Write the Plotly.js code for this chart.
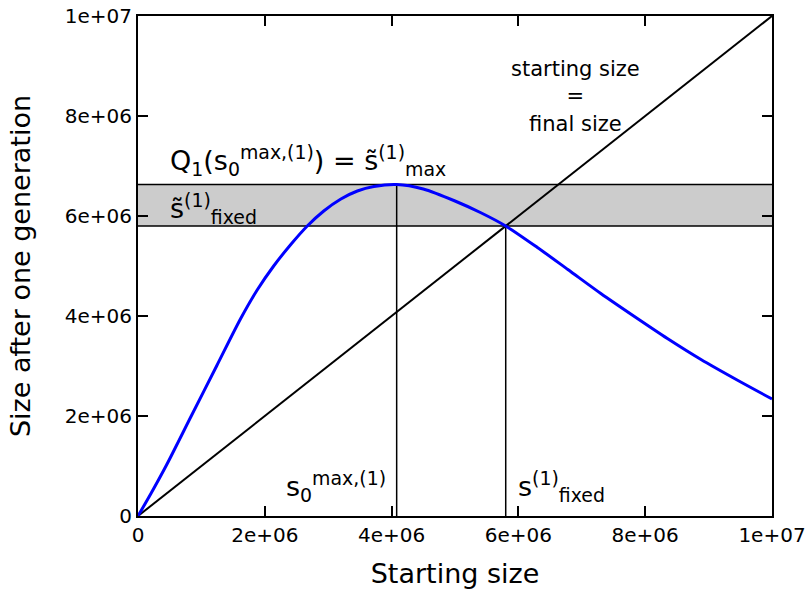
<!DOCTYPE html>
<html>
<head>
<meta charset="utf-8">
<script src="https://cdn.plot.ly/plotly-3.0.1.min.js"></script>
<style>
  html, body { margin: 0; padding: 0; background: #fff; }
  #graph { width: 809px; height: 595px; }
</style>
</head>
<body>
<div id="graph"></div>
<script>
// Curva Q1 (tamanho inicial -> tamanho após uma geração)
const startSize = [0, 0.2e6, 0.45e6, 0.84e6, 1.24e6, 1.62e6, 1.88e6, 2.14e6, 2.41e6, 2.67e6,
                   2.93e6, 3.2e6, 3.46e6, 3.72e6, 4.08e6, 4.5e6, 5.0e6, 5.4e6, 5.8e6,
                   6.3e6, 6.78e6, 7.3e6, 7.83e6, 8.35e6, 8.88e6, 9.45e6, 1.0e7];
const finalSize = [0, 0.44e6, 1.02e6, 2.0e6, 3.0e6, 3.95e6, 4.52e6, 5.0e6, 5.43e6, 5.8e6,
                   6.1e6, 6.34e6, 6.5e6, 6.59e6, 6.63e6, 6.54e6, 6.3e6, 6.07e6, 5.8e6,
                   5.37e6, 4.93e6, 4.45e6, 3.99e6, 3.55e6, 3.13e6, 2.72e6, 2.34e6];

// Reta identidade
const diagX = [0, 1e7];
const diagY = [0, 1e7];

// Pontos notáveis
const s0Max = 4.08e6;
const sMax = 6.63e6;
const sFixed = 5.8e6;

// Ticks
const tickVals = [0, 2e6, 4e6, 6e6, 8e6, 1e7];
const tickText = ["0", "2e+06", "4e+06", "6e+06", "8e+06", "1e+07"];

const fonte = "DejaVu Sans, sans-serif";

var traceCurva = {
    x: startSize,
    y: finalSize,
    mode: 'lines',
    line: { color: '#0000ff', width: 3, shape: 'spline', smoothing: 0.8 },
    hoverinfo: 'skip'
};

var traceDiag = {
    x: diagX,
    y: diagY,
    mode: 'lines',
    line: { color: 'black', width: 2 },
    hoverinfo: 'skip'
};

var traceVertMax = {
    x: [s0Max, s0Max],
    y: [0, sMax],
    mode: 'lines',
    line: { color: 'black', width: 1.5 },
    hoverinfo: 'skip'
};

var traceVertFixed = {
    x: [sFixed, sFixed],
    y: [0, sFixed],
    mode: 'lines',
    line: { color: 'black', width: 1.5 },
    hoverinfo: 'skip'
};

var eixoComum = {
    range: [0, 1e7],
    tickmode: 'array',
    tickvals: tickVals,
    ticktext: tickText,
    ticks: 'inside',
    ticklen: 10,
    tickwidth: 2,
    tickcolor: 'black',
    showline: true,
    linewidth: 2,
    linecolor: 'black',
    mirror: 'ticks',
    showgrid: false,
    zeroline: false,
    tickfont: { family: fonte, size: 20, color: 'black' }
};

var layout = {
    width: 809,
    height: 595,
    margin: { l: 138, r: 37, t: 16, b: 79 },
    paper_bgcolor: 'white',
    plot_bgcolor: 'white',
    showlegend: false,
    font: { family: fonte, color: 'black' },
    xaxis: Object.assign({}, eixoComum, {
        title: { text: 'Starting size', font: { family: fonte, size: 27 }, standoff: 18 }
    }),
    yaxis: Object.assign({}, eixoComum, {
        title: { text: 'Size after one generation', font: { family: fonte, size: 27 }, standoff: 26 }
    }),
    shapes: [
        {
            type: 'rect', xref: 'paper', yref: 'y',
            x0: 0, x1: 1, y0: sFixed, y1: sMax,
            fillcolor: '#cccccc', line: { width: 0 }, layer: 'below'
        },
        {
            type: 'line', xref: 'paper', yref: 'y',
            x0: 0, x1: 1, y0: sMax, y1: sMax,
            line: { color: 'black', width: 1.5 }, layer: 'below'
        },
        {
            type: 'line', xref: 'paper', yref: 'y',
            x0: 0, x1: 1, y0: sFixed, y1: sFixed,
            line: { color: 'black', width: 1.5 }, layer: 'below'
        }
    ],
    annotations: [
        {
            x: 0.48e6, y: 7.12e6, xref: 'x', yref: 'y',
            xanchor: 'left', yanchor: 'middle', showarrow: false,
            text: 'Q<sub>1</sub>(s<sub>0</sub><sup>max,(1)</sup>) = s\u0303<sup>(1)</sup><sub>max</sub>',
            font: { family: fonte, size: 27 }
        },
        {
            x: 0.48e6, y: 6.16e6, xref: 'x', yref: 'y',
            xanchor: 'left', yanchor: 'middle', showarrow: false,
            text: 's\u0303<sup>(1)</sup><sub>fixed</sub>',
            font: { family: fonte, size: 27 }
        },
        {
            x: 2.3e6, y: 0.6e6, xref: 'x', yref: 'y',
            xanchor: 'left', yanchor: 'middle', showarrow: false,
            text: 's<sub>0</sub><sup>max,(1)</sup>',
            font: { family: fonte, size: 27 }
        },
        {
            x: 5.96e6, y: 0.6e6, xref: 'x', yref: 'y',
            xanchor: 'left', yanchor: 'middle', showarrow: false,
            text: 's<sup>(1)</sup><sub>fixed</sub>',
            font: { family: fonte, size: 27 }
        },
        {
            x: 6.9e6, y: 8.4e6, xref: 'x', yref: 'y',
            xanchor: 'center', yanchor: 'middle', showarrow: false,
            text: 'starting size<br>=<br>final size',
            font: { family: fonte, size: 21 }
        }
    ]
};

Plotly.newPlot('graph', [traceDiag, traceVertMax, traceVertFixed, traceCurva], layout, { staticPlot: true });
</script>
</body>
</html>
